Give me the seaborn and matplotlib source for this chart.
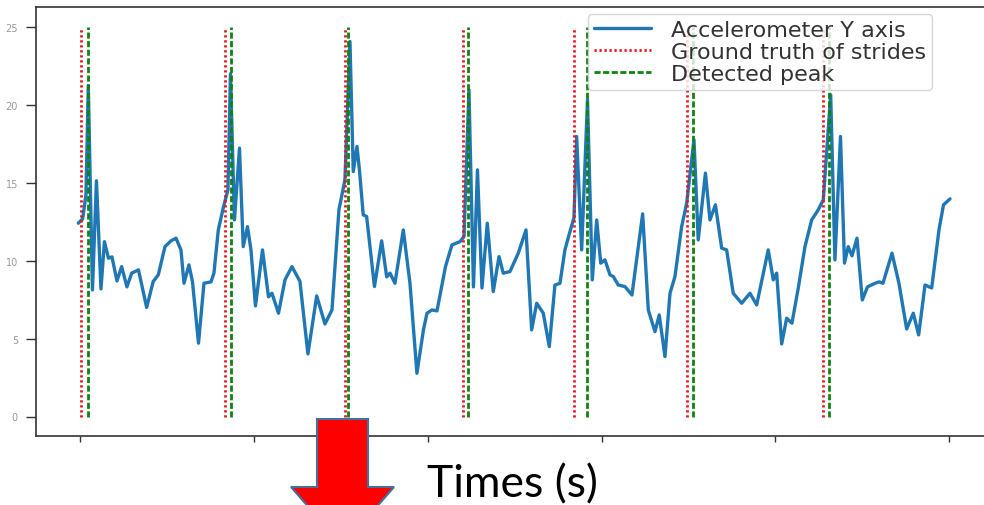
import matplotlib
matplotlib.use("Agg")
import matplotlib.pyplot as plt
from matplotlib.patches import Polygon
import pandas as pd
import seaborn as sns

# ---------------- data ----------------
time_s = [-0.025, 0.025, 0.063, 0.090, 0.138, 0.184, 0.236, 0.276, 0.322, 0.363,
          0.420, 0.474, 0.535, 0.590, 0.668, 0.762, 0.838, 0.896, 0.973, 1.042,
          1.100, 1.157, 1.192, 1.249, 1.290, 1.359, 1.422, 1.503, 1.537, 1.587,
          1.644, 1.698, 1.727, 1.773, 1.831, 1.874, 1.923, 1.963, 2.015, 2.096,
          2.165, 2.205, 2.280, 2.355, 2.435, 2.527, 2.619, 2.720, 2.815, 2.896,
          2.976, 3.045, 3.103, 3.141, 3.184, 3.212, 3.256, 3.295, 3.385, 3.468,
          3.526, 3.564, 3.621, 3.717, 3.794, 3.874, 3.949, 3.990, 4.047, 4.105,
          4.203, 4.277, 4.370, 4.416, 4.473, 4.525, 4.571, 4.623, 4.684, 4.753,
          4.819, 4.868, 4.945, 5.041, 5.130, 5.195, 5.253, 5.329, 5.398, 5.463,
          5.521, 5.578, 5.636, 5.682, 5.713, 5.771, 5.838, 5.893, 5.944, 5.990,
          6.039, 6.097, 6.135, 6.192, 6.269, 6.350, 6.473, 6.538, 6.615, 6.664,
          6.730, 6.788, 6.845, 6.922, 6.980, 7.064, 7.113, 7.196, 7.248, 7.311,
          7.383, 7.440, 7.516, 7.613, 7.709, 7.786, 7.919, 7.977, 8.016, 8.074,
          8.131, 8.192, 8.265, 8.342, 8.419, 8.495, 8.553, 8.638, 8.687, 8.751,
          8.797, 8.840, 8.883, 8.941, 9.002, 9.062, 9.148, 9.197, 9.240, 9.344,
          9.424, 9.513, 9.589, 9.651, 9.724, 9.801, 9.885, 9.937, 10.012]

accel_y = [12.39, 12.67, 14.21, 21.20, 8.11, 15.11, 8.18, 11.21, 10.15, 10.23,
           8.69, 9.61, 8.31, 9.19, 9.40, 6.99, 8.66, 9.08, 10.89, 11.26,
           11.43, 10.68, 8.54, 9.72, 8.63, 4.70, 8.54, 8.63, 9.20, 11.96,
           13.37, 14.53, 21.97, 12.60, 17.20, 10.89, 12.17, 10.68, 7.09, 10.68,
           7.67, 7.90, 6.62, 8.76, 9.61, 8.66, 4.01, 7.73, 5.93, 6.83,
           13.25, 15.17, 24.04, 15.70, 17.31, 15.81, 12.92, 12.82, 8.33, 11.26,
           8.95, 9.19, 8.54, 11.96, 8.54, 2.77, 5.55, 6.62, 6.83, 6.77,
           9.61, 11.00, 11.21, 11.53, 20.94, 8.31, 15.81, 8.24, 12.39, 8.01,
           10.25, 9.19, 9.29, 10.47, 11.96, 5.55, 7.26, 6.62, 4.48, 8.43,
           8.54, 10.68, 11.85, 12.73, 17.95, 10.68, 20.30, 8.76, 12.60, 9.83,
           10.04, 9.08, 8.97, 8.43, 8.33, 7.79, 12.99, 6.83, 5.44, 6.51,
           3.84, 7.90, 8.97, 12.17, 13.68, 17.74, 11.32, 15.60, 12.60, 13.57,
           10.79, 10.68, 7.90, 7.26, 7.90, 7.15, 10.68, 8.76, 9.19, 4.65,
           6.30, 5.98, 8.24, 10.89, 12.60, 13.25, 13.89, 20.62, 10.04, 17.95,
           9.83, 10.89, 10.30, 11.43, 7.47, 8.31, 8.54, 8.63, 8.54, 10.47,
           8.54, 5.61, 6.62, 5.23, 8.43, 8.24, 11.96, 13.57, 13.95]

ground_truth_t = [0.006, 1.664, 3.049, 4.408, 5.682, 6.987, 8.553]
detected_peak_t = [0.081, 1.733, 3.084, 4.465, 5.829, 7.056, 8.622]
marker_span = [0, 25]

y_ticks = [0, 5, 10, 15, 20, 25]
y_tick_labels = ["0", "5", "10", "15", "20", "25"]
x_ticks = [0, 2, 4, 6, 8, 10]

legend_labels = ["Accelerometer Y axis", "Ground truth of strides", "Detected peak"]
xlabel_text = "Times (s)"

# ---------------- style ----------------
sns.set_theme(style="ticks")
plt.rcParams["font.family"] = ["DejaVu Sans"]

W, H = 984, 506
fig = plt.figure(figsize=(W / 100, H / 100), dpi=100)
fig.patch.set_facecolor("white")
ax = fig.add_axes([36 / W, (H - 437) / H, 957 / W, 429 / H])
ax.set_facecolor("white")

df = pd.DataFrame({"t": time_s, "acc": accel_y})
sns.lineplot(data=df, x="t", y="acc", ax=ax, color="#1f77b4", lw=2.4,
             sort=False, estimator=None, label=legend_labels[0])
ax.vlines(ground_truth_t, marker_span[0], marker_span[1], colors="#e8121a",
          linestyles=[(0, (0.8, 1.0))], lw=2.0, label=legend_labels[1])
ax.vlines(detected_peak_t, marker_span[0], marker_span[1], colors="#128212",
          linestyles=[(0, (2.2, 0.9))], lw=2.0, label=legend_labels[2])

ax.set_xlim(-0.512, 10.507)
ax.set_ylim(-1.25, 26.25)
ax.set_xticks(x_ticks)
ax.set_xticklabels([])
ax.set_yticks(y_ticks)
ax.set_yticklabels(y_tick_labels)
ax.set_xlabel("")
ax.set_ylabel("")

ax.tick_params(axis="y", length=7, width=1.0, pad=6, labelsize=7,
               labelcolor="#999999", color="#333333", direction="out")
ax.tick_params(axis="x", length=4, width=1.0, color="#333333", direction="out",
               labelbottom=False)
for sp in ax.spines.values():
    sp.set_visible(True)
    sp.set_color("#333333")
    sp.set_linewidth(1.2)

leg = ax.legend(loc="upper left", bbox_to_anchor=(588 / W, 1 - 15 / H),
                bbox_transform=fig.transFigure, borderaxespad=0, fontsize=16,
                handlelength=2.6, handletextpad=0.9, borderpad=0.25,
                labelspacing=0.1, frameon=True, fancybox=True, framealpha=0.8,
                edgecolor="0.8", facecolor="white")
for tx in leg.get_texts():
    tx.set_color("#333333")

# red block arrow (decoration)
arrow_px = [(317, 420), (368, 420), (368, 488), (394, 488), (342.5, 547),
            (291, 488), (317, 488)]
poly = Polygon([(x / W, 1 - y / H) for x, y in arrow_px], closed=True,
               transform=fig.transFigure, facecolor="#FF0000",
               edgecolor="#41719C", lw=1.5, zorder=10)
fig.add_artist(poly)

fig.text(427 / W, 1 - 497 / H, xlabel_text, fontsize=32,
         family=["Lato", "DejaVu Sans"], va="baseline", ha="left",
         color="black", zorder=11)

fig.savefig("out.png", dpi=100)
